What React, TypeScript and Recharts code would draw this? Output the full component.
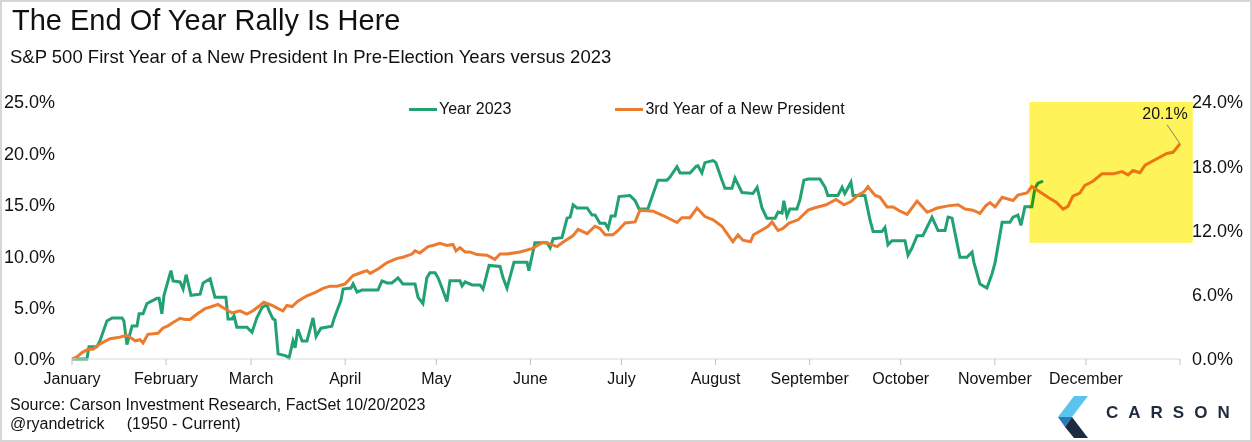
import React from "react";
import { LineChart, Line, XAxis, YAxis, Legend, ReferenceArea, LabelList } from "recharts";

// day-of-year (calendar) on x, percent change on y
const monthNames = ["January", "February", "March", "April", "May", "June", "July", "August", "September", "October", "November", "December", ""];
const monthStarts = [0, 31, 59, 90, 120, 151, 181, 212, 243, 273, 304, 334, 365];
const leftTicks = [0, 5, 10, 15, 20, 25];
const rightTicks = [0, 6, 12, 18, 24];

// Year 2023 (left axis)
const year2023: [number, number][] = [
  [0, 0], [4.9, 0], [5.6, 1.2], [8.2, 1.2], [9.2, 1.75], [11.5, 3.7], [13.2, 4.0], [16.5, 4.0], [17.1, 3.7], [18.1, 1.4],
  [19.8, 3.2], [21.4, 3.2], [22.1, 4.4], [23.4, 4.4], [24.7, 5.4], [28.0, 5.9], [28.7, 5.9], [29.6, 4.4], [30.3, 6.2], [32.6, 8.6],
  [33.3, 7.6], [35.6, 7.5], [36.6, 6.8], [37.6, 8.2], [39.2, 6.2], [42.2, 6.3], [43.2, 7.4], [45.5, 7.8], [47.1, 6.0], [50.7, 6.0],
  [51.4, 3.9], [52.7, 3.9], [53.4, 4.2], [54.3, 3.1], [57.6, 3.1], [59.3, 2.6], [60.9, 4.0], [62.6, 5.0], [64.2, 5.3], [64.9, 4.7],
  [66.2, 3.9], [66.9, 3.8], [67.9, 0.5], [70.5, 0.3], [71.5, 0.1], [72.8, 1.75], [73.5, 1.1], [74.4, 2.9], [75.8, 1.75], [77.4, 1.75],
  [79.4, 4.0], [80.4, 2.2], [82.0, 3.0], [85.6, 3.2], [86.3, 3.9], [87.3, 4.7], [88.6, 5.7], [89.3, 6.8], [91.9, 6.9], [92.6, 7.3],
  [93.9, 6.5], [95.5, 6.7], [100.8, 6.7], [102.1, 7.6], [103.8, 7.4], [105.4, 7.4], [107.4, 7.9], [109.0, 7.3], [113.0, 7.3], [114.0, 6.0],
  [115.6, 5.4], [116.9, 7.9], [117.9, 8.4], [119.6, 8.4], [120.6, 7.9], [121.9, 6.9], [123.5, 5.6], [124.5, 7.6], [127.8, 7.6], [128.5, 7.1],
  [129.5, 7.5], [131.8, 7.2], [134.4, 7.2], [135.4, 6.8], [137.4, 9.1], [141.0, 9.0], [142.0, 7.9], [143.3, 6.9], [145.6, 9.4], [149.9, 9.4],
  [150.5, 8.6], [152.5, 11.3], [156.5, 11.3], [157.5, 10.8], [158.5, 11.7], [161.4, 11.8], [163.1, 13.7], [164.1, 13.8], [165.1, 15.0], [166.4, 14.7],
  [169.7, 14.7], [171.3, 14.0], [172.3, 14.0], [173.9, 13.2], [175.6, 13.2], [176.6, 12.7], [177.6, 13.9], [178.9, 13.9], [180.2, 15.8], [183.8, 15.9],
  [185.5, 15.4], [186.8, 14.6], [189.7, 14.6], [193.0, 17.4], [196.0, 17.4], [197.0, 17.7], [199.3, 18.7], [200.3, 18.1], [203.6, 18.1], [205.6, 18.75],
  [206.2, 18.8], [207.5, 18.1], [208.5, 19.1], [211.2, 19.3], [212.1, 19.1], [214.1, 17.4], [215.1, 16.6], [217.4, 16.6], [218.4, 17.6], [220.7, 16.2],
  [224.3, 16.1], [225.7, 16.7], [227.3, 14.7], [228.9, 13.7], [231.6, 13.7], [232.6, 14.3], [233.9, 14.2], [234.5, 15.4], [235.5, 13.9], [236.5, 14.6],
  [238.8, 14.6], [239.8, 15.5], [241.1, 17.4], [242.5, 17.5], [246.4, 17.5], [248.1, 16.7], [249.0, 15.9], [252.3, 15.9], [253.7, 16.7], [254.6, 16.1],
  [256.6, 17.2], [257.3, 15.9], [261.2, 15.9], [262.9, 13.5], [263.9, 12.4], [266.8, 12.4], [267.8, 12.8], [268.8, 11.1], [270.1, 11.5], [274.4, 11.5],
  [275.4, 10.1], [276.7, 10.8], [278.4, 12.0], [280.3, 12.0], [283.3, 13.8], [285.3, 12.5], [287.6, 12.5], [288.6, 13.8], [289.9, 13.7], [292.5, 9.9],
  [294.8, 9.9], [296.5, 10.4], [297.1, 9.4], [299.1, 7.3], [301.4, 6.9], [303.1, 8.3], [304.1, 9.4], [306.4, 13.3], [309.0, 13.3], [310.0, 13.8],
  [311.6, 14.0], [312.6, 13.0], [313.9, 14.8], [316.2, 14.8], [317.2, 16.6], [318.2, 17.1], [319.9, 17.3],
];

// 3rd year of a new president, average path (right axis)
const thirdYear: [number, number][] = [
  [0, 0], [1.6, 0.2], [3.3, 0.6], [5.3, 0.9], [6.9, 0.9], [9.2, 1.4], [12.5, 1.9], [15.2, 2.0], [17.8, 2.2], [18.8, 2.1],
  [20.8, 1.7], [22.4, 1.8], [23.4, 1.5], [25.0, 2.3], [28.3, 2.4], [30.0, 2.9], [31.6, 3.1], [33.3, 3.4], [35.6, 3.8], [37.2, 3.7],
  [38.9, 3.7], [41.2, 4.2], [43.8, 4.7], [46.1, 4.9], [48.1, 5.1], [49.7, 4.8], [52.7, 4.3], [55.3, 4.5], [57.6, 4.2], [59.6, 4.5],
  [61.9, 5.0], [63.2, 5.3], [65.9, 5.0], [67.9, 4.7], [69.5, 4.5], [70.8, 5.0], [72.5, 4.9], [74.4, 5.4], [77.4, 5.9], [80.0, 6.2],
  [82.7, 6.6], [85.0, 6.8], [87.3, 6.8], [89.9, 7.0], [92.6, 7.8], [95.5, 8.1], [97.2, 8.25], [98.2, 8.0], [100.8, 8.4], [103.8, 9.0],
  [107.1, 9.4], [109.0, 9.5], [112.0, 9.8], [113.0, 10.1], [114.6, 9.9], [117.3, 10.5], [118.9, 10.6], [121.2, 10.8], [123.5, 10.6], [125.5, 10.7],
  [126.5, 10.1], [127.8, 10.4], [129.5, 10.0], [131.1, 10.0], [133.4, 9.75], [136.7, 9.7], [139.3, 9.3], [141.0, 9.8], [143.3, 9.8], [147.6, 10.0],
  [151.5, 10.3], [155.2, 10.9], [156.8, 10.8], [159.8, 10.5], [161.7, 10.9], [165.0, 11.5], [166.7, 12.1], [169.7, 11.7], [172.3, 12.4], [173.9, 12.2],
  [175.6, 11.6], [178.2, 11.6], [179.9, 12.0], [182.2, 12.7], [185.5, 12.8], [187.1, 13.9], [191.4, 13.8], [194.7, 13.4], [199.3, 12.75], [200.9, 13.2],
  [203.6, 13.2], [205.9, 14.1], [208.5, 13.3], [211.2, 13.0], [214.1, 12.4], [216.1, 11.6], [217.7, 10.95], [219.4, 11.6], [221.0, 11.1], [223.5, 10.95],
  [224.5, 11.6], [227.0, 12.0], [229.3, 12.4], [230.6, 12.8], [232.6, 12.0], [234.2, 12.2], [236.2, 12.7], [239.2, 13.0], [242.5, 13.9], [244.5, 14.1],
  [248.4, 14.4], [251.7, 14.9], [254.3, 14.4], [256.6, 14.7], [258.9, 15.3], [260.9, 15.6], [262.2, 16.1], [264.5, 15.3], [266.2, 15.1], [268.5, 14.2],
  [270.5, 14.2], [272.8, 13.8], [275.1, 13.5], [278.4, 14.75], [281.7, 13.7], [285.0, 14.1], [288.6, 14.3], [291.9, 14.4], [294.2, 14.0], [296.8, 13.9],
  [299.1, 13.6], [301.0, 14.3], [302.4, 14.6], [304.1, 14.2], [306.4, 15.1], [310.0, 14.8], [311.6, 15.3], [314.6, 15.5], [316.2, 16.1], [318.9, 15.6],
  [321.5, 15.1], [324.2, 14.65], [326.5, 14.0], [328.1, 14.25], [329.7, 15.2], [332.0, 15.5], [333.6, 16.2], [336.3, 16.6], [339.3, 17.3], [343.2, 17.3],
  [345.9, 17.5], [347.9, 17.2], [349.5, 17.6], [351.8, 17.4], [353.5, 18.1], [357.4, 18.7], [360.7, 19.2], [362.7, 19.3], [365, 20.1],
];

const series = [
  { key: "g", name: "Year 2023", color: "#22a171" },
  { key: "o", name: "3rd Year of a New President", color: "#ec7b30" },
];

// yellow highlight over the year-end stretch (days, left-axis percent)
const highlight = { fromDay: 315.4, toDay: 369.2, low: 11.3, high: 25 };

const FONT = '"Liberation Sans", Arial, Helvetica, sans-serif';

type Row = { day: number; g?: number; o?: number };

const rows: Row[] = (() => {
  const map = new Map<number, Row>();
  year2023.forEach(([d, v]) => {
    const r = map.get(d) ?? { day: d };
    r.g = v;
    map.set(d, r);
  });
  thirdYear.forEach(([d, v]) => {
    const r = map.get(d) ?? { day: d };
    r.o = v;
    map.set(d, r);
  });
  return [...map.values()].sort((a, b) => a.day - b.day);
})();

const pct = (v: number) => `${v.toFixed(1)}%`;

const renderLegend = () => (
  <div style={{ display: "flex", alignItems: "center", fontFamily: FONT, fontSize: 16, color: "#111", lineHeight: "18px", whiteSpace: "nowrap" }}>
    {series.map((s, i) => (
      <div key={s.key} style={{ display: "flex", alignItems: "center", marginRight: i === 0 ? 104 : 0 }}>
        <span style={{ display: "inline-block", width: 28, height: 3, background: s.color, marginRight: 2 }} />
        <span>{s.name}</span>
      </div>
    ))}
  </div>
);

const EndLabel = (props: any) => {
  const { x, y, value, index } = props;
  if (index !== rows.length - 1 || value == null) return null;
  return (
    <g>
      <line x1={x - 13} y1={y - 19} x2={x} y2={y} stroke="#808080" strokeWidth={1} />
      <text x={x - 15} y={y - 25} textAnchor="middle" fontSize={16} fontFamily={FONT} fill="#111">
        {pct(value)}
      </text>
    </g>
  );
};

export default function App() {
  return (
    <div style={{ position: "absolute", left: 0, top: 0, width: 1252, height: 442, background: "#fff", overflow: "hidden", fontFamily: FONT, color: "#111" }}>
      <div style={{ position: "absolute", left: 0, top: 0 }}>
        <LineChart width={1252} height={442} data={rows} margin={{ top: 102, right: 12, bottom: 53, left: 12 }}>
          <XAxis
            dataKey="day"
            type="number"
            domain={[0, 365]}
            ticks={monthStarts}
            interval={0}
            tickFormatter={(d: number) => monthNames[monthStarts.indexOf(d)] ?? ""}
            height={30}
            tickSize={6}
            tickMargin={8}
            axisLine={{ stroke: "#d9d9d9" }}
            tickLine={{ stroke: "#bfbfbf" }}
            tick={{ fontSize: 16, fill: "#111", fontFamily: FONT }}
          />
          <YAxis
            yAxisId="left"
            domain={[0, 25]}
            ticks={leftTicks}
            tickFormatter={pct}
            width={60}
            axisLine={false}
            tickLine={false}
            tickSize={0}
            tickMargin={17}
            tick={{ fontSize: 18, fill: "#111", fontFamily: FONT }}
          />
          <YAxis
            yAxisId="right"
            orientation="right"
            domain={[0, 24]}
            ticks={rightTicks}
            tickFormatter={pct}
            width={60}
            axisLine={false}
            tickLine={false}
            tickSize={0}
            tickMargin={12}
            tick={{ fontSize: 18, fill: "#111", fontFamily: FONT }}
          />
          <Legend
            layout="horizontal"
            verticalAlign="middle"
            align="center"
            content={renderLegend}
            wrapperStyle={{ top: 100, left: 409, width: "auto" }}
          />
          <Line
            yAxisId="left"
            dataKey="g"
            name={series[0].name}
            stroke={series[0].color}
            strokeWidth={3}
            dot={false}
            activeDot={false}
            connectNulls
            type="linear"
            isAnimationActive={false}
          />
          <Line
            yAxisId="right"
            dataKey="o"
            name={series[1].name}
            stroke={series[1].color}
            strokeWidth={3}
            dot={false}
            activeDot={false}
            connectNulls
            type="linear"
            isAnimationActive={false}
          >
            <LabelList dataKey="o" content={EndLabel} />
          </Line>
          <ReferenceArea
            yAxisId="left"
            x1={highlight.fromDay}
            x2={highlight.toDay}
            y1={highlight.low}
            y2={highlight.high}
            ifOverflow="visible"
            zIndex={450}
            shape={(p: any) => (
              <rect x={p.x} y={p.y} width={p.width} height={p.height} fill="#fff35a" style={{ mixBlendMode: "multiply" }} />
            )}
          />
        </LineChart>
      </div>

      <div style={{ position: "absolute", left: 12, top: 6, fontSize: 29, lineHeight: "29px", whiteSpace: "nowrap" }}>
        The End Of Year Rally Is Here
      </div>
      <div style={{ position: "absolute", left: 10, top: 47, fontSize: 18.5, lineHeight: "19px", whiteSpace: "nowrap" }}>
        S&amp;P 500 First Year of a New President In Pre-Election Years versus 2023
      </div>

      <div style={{ position: "absolute", left: 10, top: 397, fontSize: 16, lineHeight: "16px", whiteSpace: "nowrap" }}>
        Source: Carson Investment Research, FactSet 10/20/2023
      </div>
      <div style={{ position: "absolute", left: 10, top: 416, fontSize: 16, lineHeight: "16px", whiteSpace: "pre" }}>
        {"@ryandetrick     (1950 - Current)"}
      </div>

      <svg style={{ position: "absolute", left: 1058, top: 396 }} width={34} height={42} viewBox="0 0 34 42">
        <polygon points="16,0 30,0 14,21 0,21" fill="#5ac4ef" />
        <polygon points="0,21 14,21 7,31" fill="#2b78bd" />
        <polygon points="7,31 14,21 30,42 16,42" fill="#1c2b40" />
      </svg>
      <div style={{ position: "absolute", left: 1106, top: 404, fontSize: 17, lineHeight: "18px", fontWeight: 700, letterSpacing: 10, color: "#1e2b3c", whiteSpace: "nowrap" }}>
        CARSON
      </div>

      <div style={{ position: "absolute", inset: 0, boxShadow: "inset 0 0 0 2px #d6d6d6", pointerEvents: "none" }} />
    </div>
  );
}
